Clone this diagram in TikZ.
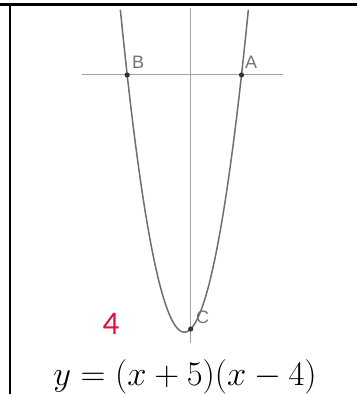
\documentclass[tikz,border=0pt]{standalone}
\usepackage{fontspec}
\setsansfont{Liberation Sans}
\newfontfamily\calfont{Carlito}
\usepackage{xcolor}
\usepackage{tikz}
\usetikzlibrary{positioning}
\definecolor{curvegray}{RGB}{110,110,110}
\definecolor{axisgray}{RGB}{160,160,160}
\definecolor{ptgray}{RGB}{115,115,115}
\definecolor{markred}{RGB}{226,18,62}

\begin{document}
\begin{tikzpicture}[x=0.5pt, y=-0.5pt,
frame/.style={line width=1.1pt, black}, axisline/.style={line width=0.5pt, axisgray},
curve/.style={line width=0.75pt, curvegray}, pt/.style={circle, fill=black!80, inner sep=0pt,
minimum size=2.6pt}, ptlbl/.style={font=\sffamily\fontsize{9}{10}\selectfont, text=ptgray, inner
sep=0pt}, redlbl/.style={font=\calfont\fontsize{16.5}{18}\selectfont, text=markred}, eqn/.style={font=\fontsize{16}{19}\selectfont} ]
\useasboundingbox (0,0) rectangle (357,394);
\draw[frame] (0,4.5) -- (357,4.5);
\draw[frame] (10,4.5) -- (10,394);
\begin{scope}[shift={(190.7,75)}, x=6.35pt, y=6.35pt]
\draw[axisline] (0,5.28) -- (0,-21.1);
\draw[axisline] (-8.56,0) -- (7.26,0);
\draw[curve] plot[domain=-5.54:4.54, samples=90, smooth] (\x,{(\x+5)*(\x-4)});
\node[pt] (B) at (-5,0) {};
\node[pt] (A) at (4,0) {};
\node[pt] (C) at (0,-20) {};
\end{scope}
\node[ptlbl, above right=2pt and 1.2pt of B] (Blbl) {B};
\node[ptlbl, above right=2pt and 0.5pt of A] (Albl) {A};
\node[ptlbl, above right=1.5pt and 1.5pt of C] (Clbl) {C};
\node[redlbl] (four) at (111,323.5) {4};
\node[eqn] (eq) at (185,377) {$y=(x+5)(x-4)$};
\end{tikzpicture}
\end{document}
